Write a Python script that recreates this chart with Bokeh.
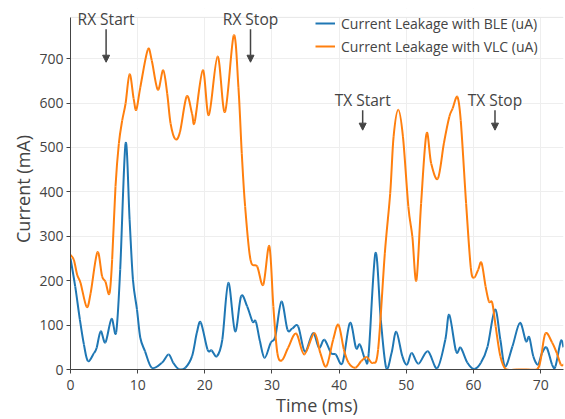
import numpy as np
from bokeh.plotting import figure
from bokeh.models import (Range1d, FixedTicker, Legend, LegendItem,
                          Label, Arrow, NormalHead, Span, BoxAnnotation)
from bokeh.embed import file_html
from bokeh.resources import INLINE

# ---------------- data ----------------
ble_time = [0.0, 0.7, 1.4, 2.0, 2.6, 3.5, 3.9, 4.5, 5.2, 6.1, 6.8, 7.4, 8.2, 8.8,
            9.3, 9.9, 10.4, 11.1, 12.1, 13.6, 14.6, 15.3, 16.1, 17.1, 18.1, 18.8,
            19.4, 20.4, 21.0, 21.8, 22.6, 23.5, 24.5, 25.4, 26.3, 27.1, 27.6, 28.2,
            28.9, 29.8, 30.5, 31.4, 32.3, 33.0, 33.9, 34.9, 36.1, 37.0, 37.8, 38.8,
            39.5, 40.5, 41.6, 42.5, 43.1, 43.9, 44.4, 45.4, 46.2, 47.0, 47.8, 48.5,
            49.4, 50.1, 50.8, 51.8, 53.2, 54.6, 55.8, 56.4, 57.4, 58.1, 59.1, 60.1,
            61.1, 62.1, 63.2, 64.0, 64.7, 65.8, 66.9, 67.8, 68.3, 68.9, 69.6, 70.2,
            70.9, 71.7, 72.2, 73.0, 73.4]
ble_current = [250, 187, 112, 56, 19, 37, 49, 86, 61, 114, 84, 225, 509, 337,
               202, 135, 71, 41, 4, 15, 34, 15, 1, 4, 30, 82,
               106, 45, 43, 30, 67, 195, 86, 165, 142, 108, 108, 64,
               26, 60, 75, 153, 90, 92, 97, 40, 82, 49, 67, 37,
               34, 15, 105, 49, 56, 22, 37, 262, 112, 4, 37, 85,
               30, 11, 37, 13, 41, 3, 67, 123, 41, 49, 15, 1,
               15, 52, 135, 67, 7, 52, 105, 64, 73, 30, 11, 37,
               49, 11, 7, 64, 50]

vlc_time = [0.0, 0.5, 1.0, 1.5, 2.4, 3.0, 4.0, 4.7, 5.2, 5.8, 6.2, 6.7, 7.2, 7.7,
            8.2, 8.8, 9.4, 9.8, 10.4, 11.5, 12.1, 13.0, 13.8, 14.4, 14.9, 15.6,
            16.3, 17.3, 18.1, 18.5, 19.7, 20.6, 21.9, 23.0, 24.3, 25.0, 25.5, 26.0,
            26.8, 27.8, 28.7, 29.6, 30.2, 30.8, 31.5, 32.4, 33.6, 34.8, 36.3, 37.2,
            38.1, 39.1, 39.9, 40.7, 41.4, 42.4, 43.3, 44.1, 45.0, 45.8, 46.8, 47.6,
            48.1, 48.8, 49.5, 50.3, 50.9, 51.5, 52.2, 53.0, 53.7, 54.7, 55.6, 56.4,
            56.9, 57.6, 58.1, 58.9, 59.6, 60.1, 60.7, 61.2, 61.8, 62.3, 62.8, 63.3,
            64.0, 64.8, 66.5, 68.0, 69.5, 70.0, 70.7, 71.7, 72.4, 73.0, 73.4]
vlc_current = [258, 247, 213, 195, 141, 172, 264, 210, 198, 171, 247, 412, 509, 561,
               599, 665, 610, 585, 636, 720, 696, 630, 674, 621, 554, 519,
               535, 615, 576, 558, 674, 573, 705, 580, 752, 636, 487, 367,
               247, 232, 191, 278, 142, 37, 21, 49, 81, 34, 82, 37,
               7, 67, 101, 45, 15, 4, 19, 28, 15, 45, 262, 397,
               524, 585, 524, 367, 299, 201, 374, 531, 464, 430, 510, 569,
               588, 614, 561, 374, 229, 207, 225, 240, 187, 153, 150, 97,
               30, 1, 0, 0, 1, 22, 81, 61, 37, 11, 11]

series_names = ["Current Leakage with BLE (uA)", "Current Leakage with VLC (uA)"]
x_title = "Time (ms)"
y_title = "Current (mA)"

x_ticks = [0, 10, 20, 30, 40, 50, 60, 70]
y_ticks = [0, 100, 200, 300, 400, 500, 600, 700]

event_labels = ["RX Start", "RX Stop", "TX Start", "TX Stop"]
event_time = [5.3, 26.8, 43.5, 63.2]
event_tip = [692, 692, 539, 539]
event_tail = [766, 766, 584, 584]

X_MAX = 73.4
Y_MAX = 793          # top edge of the plotting area
Y_TOP = 813          # extra head-room so the top annotations are not clipped

# ---------------- styling ----------------
FONT = "Open Sans"
TXT = "#444444"
BLUE = "#1f77b4"
ORANGE = "#ff7f0e"
GRID = "#eeeeee"


def spline_segments(xs, ys):
    """Catmull-Rom spline through the points, as cubic Bezier segments."""
    x = np.asarray(xs, float)
    y = np.asarray(ys, float)
    n = len(x)
    xp = np.concatenate([[x[0]], x, [x[-1]]])
    yp = np.concatenate([[y[0]], y, [y[-1]]])
    cx0 = x[:-1] + (xp[2:n + 1] - xp[0:n - 1]) / 6.0
    cy0 = y[:-1] + (yp[2:n + 1] - yp[0:n - 1]) / 6.0
    cx1 = x[1:] - (xp[3:n + 2] - xp[1:n]) / 6.0
    cy1 = y[1:] - (yp[3:n + 2] - yp[1:n]) / 6.0
    return dict(x0=x[:-1], y0=y[:-1], x1=x[1:], y1=y[1:],
                cx0=cx0, cy0=cy0, cx1=cx1, cy1=cy1)


p = figure(width=565, height=419, output_backend="svg", toolbar_location=None,
           x_range=Range1d(0, X_MAX), y_range=Range1d(0, Y_TOP),
           min_border_left=70, min_border_right=2, min_border_top=8,
           min_border_bottom=49)

p.background_fill_color = "white"
p.border_fill_color = "white"
p.outline_line_color = None

# blank head-room band above the plotting area (hides grid lines there)
p.add_layout(BoxAnnotation(bottom=Y_MAX, top=Y_TOP, fill_color="white", fill_alpha=1,
                           line_color=None, level="underlay"))
# top edge line of the plotting area
p.add_layout(Span(location=Y_MAX, dimension="width", line_color="#e6e6e6",
                  line_width=1, level="underlay"))

r_ble = p.bezier(line_color=BLUE, line_width=2, **spline_segments(ble_time, ble_current))
r_vlc = p.bezier(line_color=ORANGE, line_width=2, **spline_segments(vlc_time, vlc_current))

# axes
p.xaxis.ticker = FixedTicker(ticks=x_ticks)
p.yaxis.ticker = FixedTicker(ticks=y_ticks)
p.yaxis.bounds = (0, Y_MAX)
p.xaxis.axis_label = x_title
p.yaxis.axis_label = y_title
for ax in (p.xaxis, p.yaxis):
    ax.axis_line_color = TXT
    ax.axis_line_width = 1
    ax.major_tick_line_color = TXT
    ax.major_tick_out = 4
    ax.major_tick_in = 0
    ax.minor_tick_line_color = None
    ax.major_label_text_font = FONT
    ax.major_label_text_font_size = "14px"
    ax.major_label_text_color = TXT
    ax.axis_label_text_font = FONT
    ax.axis_label_text_font_size = "18px"
    ax.axis_label_text_font_style = "normal"
    ax.axis_label_text_color = TXT
p.xaxis.major_label_standoff = 6
p.xaxis.axis_label_standoff = 0
p.yaxis.major_label_standoff = 3
p.yaxis.axis_label_standoff = 1

p.xgrid.grid_line_color = GRID
p.ygrid.grid_line_color = GRID

# legend (bottom-left corner given relative to the frame's bottom-left, px)
legend = Legend(items=[LegendItem(label=series_names[0], renderers=[r_ble]),
                       LegendItem(label=series_names[1], renderers=[r_vlc])],
                location=(245, 313))
legend.margin = 0
legend.padding = 0
legend.spacing = 3
legend.label_standoff = 6
legend.glyph_width = 20
legend.glyph_height = 20
legend.label_height = 20
legend.label_text_font = FONT
legend.label_text_font_size = "14px"
legend.label_text_color = TXT
legend.border_line_color = None
legend.background_fill_alpha = 0
p.add_layout(legend)

# event annotations
for lab, t, tip, tail in zip(event_labels, event_time, event_tip, event_tail):
    p.add_layout(Arrow(end=NormalHead(size=7, fill_color=TXT, line_color=TXT),
                       x_start=t, y_start=tail, x_end=t, y_end=tip,
                       line_color=TXT, line_width=1.5))
    p.add_layout(Label(x=t, y=tail, text=lab, text_align="center",
                       text_baseline="alphabetic", y_offset=10,
                       text_font=FONT, text_font_size="15.5px", text_color=TXT))

open("out.html", "w").write(file_html(p, INLINE))
